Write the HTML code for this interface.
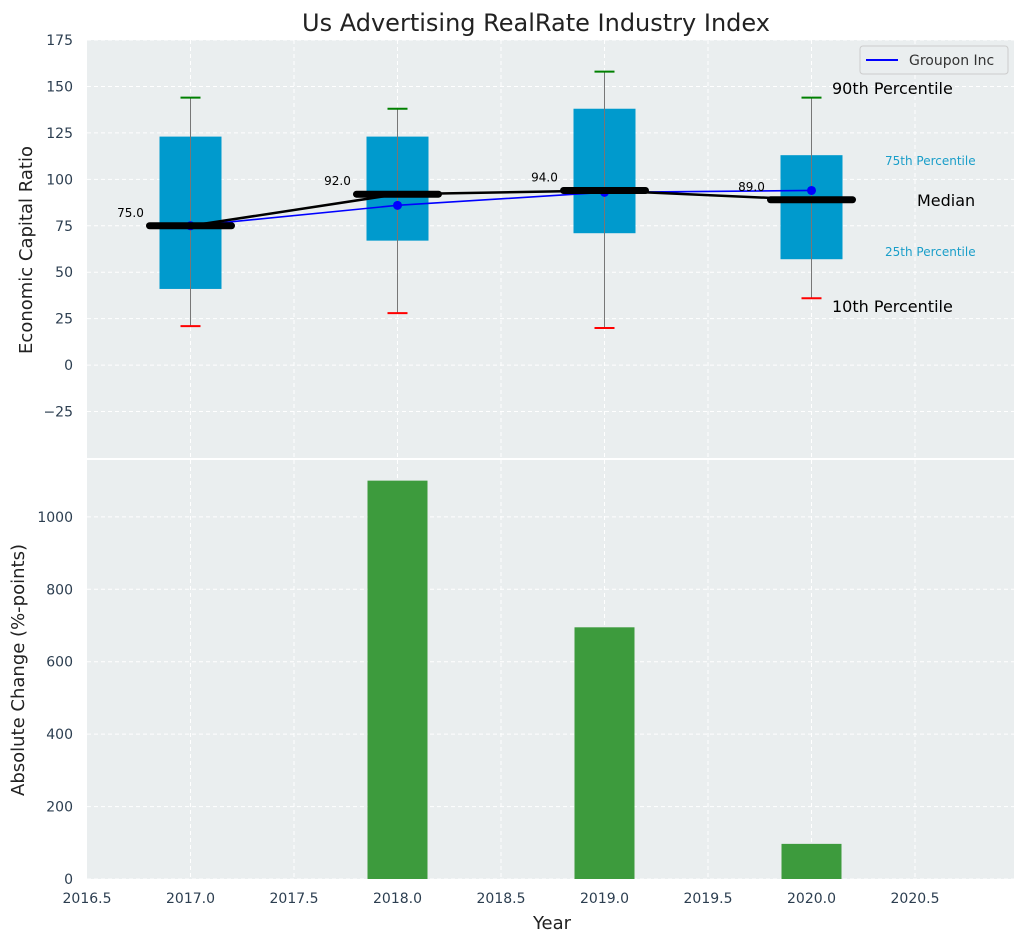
<!DOCTYPE html>
<html><head><meta charset="utf-8"><style>
body{margin:0;background:#fff;}
text{font-family:"DejaVu Sans","Liberation Sans",sans-serif;}
</style></head><body>
<svg id="chart" width="1026" height="942" xmlns="http://www.w3.org/2000/svg"></svg>
<script>
const years=[2017,2018,2019,2020];
const p10=[21,28,20,36];
const q1=[41,67,71,57];
const medians=[75,92,94,89];
const q3=[123,123,138,113];
const p90=[144,138,158,144];
const groupon=[75,86,93,94];
const barYears=[2018,2019,2020];
const barValues=[1100,695,97];
const xTicks=[2016.5,2017,2017.5,2018,2018.5,2019,2019.5,2020,2020.5];
const yTicksTop=[-25,0,25,50,75,100,125,150,175];
const yTicksBot=[0,200,400,600,800,1000];

const svg=document.getElementById('chart');
const NS='http://www.w3.org/2000/svg';
function el(t,a,p){const e=document.createElementNS(NS,t);for(const k in a)e.setAttribute(k,a[k]);(p||svg).appendChild(e);return e;}
const L=87,R=1014;
const x=v=>L+(v-2016.5)*207;
const T0=40,T1=458,yT=v=>T0+(175-v)*(T1-T0)/225;
const B0=460,B1=879,yB=v=>B1-v*(B1-B0)/1157;

// backgrounds
let e=el('rect',{x:L,y:T0,width:R-L,height:T1-T0,fill:'#eaeeef'});

e=el('rect',{x:L,y:B0,width:R-L,height:B1-B0,fill:'#eaeeef'});


// grids
xTicks.forEach(t=>{
  if(t===2016.5)return;
  e=el('line',{x1:x(t),x2:x(t),y1:T0,y2:T1,stroke:'#fff','stroke-dasharray':'4,3','stroke-width':1});
  
  e=el('line',{x1:x(t),x2:x(t),y1:B0,y2:B1,stroke:'#fff','stroke-dasharray':'4,3','stroke-width':1});
  
});
yTicksTop.forEach(t=>{
  e=el('line',{x1:L,x2:R,y1:yT(t),y2:yT(t),stroke:'#fff','stroke-dasharray':'4,3'});
  
  e=el('text',{x:L-14,y:yT(t)+5,'text-anchor':'end','font-size':14,fill:'#2c3e50'});
  e.textContent=t===0?'0':(t<0?'\u2212'+(-t):t);
  
});
yTicksBot.forEach(t=>{
  e=el('line',{x1:L,x2:R,y1:yB(t),y2:yB(t),stroke:'#fff','stroke-dasharray':'4,3'});
  
  e=el('text',{x:L-14,y:yB(t)+5,'text-anchor':'end','font-size':14,fill:'#2c3e50'});
  e.textContent=t;
  
});
xTicks.forEach(t=>{
  e=el('text',{x:x(t),y:B1+24,'text-anchor':'middle','font-size':14,fill:'#2c3e50'});
  e.textContent=t.toFixed(1);
  
});

// boxes
years.forEach((yr,i)=>{
  const cx=x(yr);
  e=el('rect',{x:cx-31,y:yT(q3[i]),width:62,height:yT(q1[i])-yT(q3[i]),fill:'#009acd'});
  
  e=el('line',{x1:cx,x2:cx,y1:yT(p90[i]),y2:yT(p10[i]),stroke:'#777','stroke-width':1});
  
  e=el('line',{x1:cx-10,x2:cx+10,y1:yT(p90[i]),y2:yT(p90[i]),stroke:'green','stroke-width':2});
  
  e=el('line',{x1:cx-10,x2:cx+10,y1:yT(p10[i]),y2:yT(p10[i]),stroke:'red','stroke-width':2});
  
});
// groupon line
e=el('polyline',{points:years.map((yr,i)=>x(yr)+','+yT(groupon[i])).join(' '),fill:'none',stroke:'blue','stroke-width':1.6});

years.forEach((yr,i)=>{
  e=el('circle',{cx:x(yr),cy:yT(groupon[i]),r:4.5,fill:'blue'});
  
});
// median line
e=el('polyline',{points:years.map((yr,i)=>x(yr)+','+yT(medians[i])).join(' '),fill:'none',stroke:'#000','stroke-width':2.5});

years.forEach((yr,i)=>{
  const cx=x(yr);
  e=el('line',{x1:cx-41,x2:cx+41,y1:yT(medians[i]),y2:yT(medians[i]),stroke:'#000','stroke-width':7,'stroke-linecap':'round'});
  
  e=el('text',{x:cx-60,y:yT(medians[i])-9,'text-anchor':'middle','font-size':12,fill:'#000'});
  e.textContent=medians[i].toFixed(1);
  
});
// annotations
const ann=[['90th Percentile',832,94,16,'#000'],['75th Percentile',885,165,12,'#1a9ec9'],['Median',917,206,16,'#000'],['25th Percentile',885,256,12,'#1a9ec9'],['10th Percentile',832,312,16,'#000']];
ann.forEach(a=>{e=el('text',{x:a[1],y:a[2],'font-size':a[3],fill:a[4]});e.textContent=a[0];
  });
// legend
e=el('rect',{x:860,y:46,width:148,height:28,rx:3,fill:'#eaeeef',stroke:'#ccc'});

el('line',{x1:866,x2:898,y1:60,y2:60,stroke:'blue','stroke-width':2});
e=el('text',{x:909,y:65,'font-size':14,fill:'#333'});e.textContent='Groupon Inc';

// bars
barYears.forEach((yr,i)=>{
  e=el('rect',{x:x(yr)-30,y:yB(barValues[i]),width:60,height:B1-yB(barValues[i]),fill:'#3d9b3d'});
  
});
// titles
e=el('text',{x:536,y:31,'text-anchor':'middle','font-size':24,fill:'#222'});e.textContent='Us Advertising RealRate Industry Index';

e=el('text',{x:552,y:929,'text-anchor':'middle','font-size':18,fill:'#222'});e.textContent='Year';

e=el('text',{x:32,y:250,'text-anchor':'middle','font-size':18,fill:'#222',transform:'rotate(-90 32 250)'});e.textContent='Economic Capital Ratio';

e=el('text',{x:24,y:670,'text-anchor':'middle','font-size':18,fill:'#222',transform:'rotate(-90 24 670)'});e.textContent='Absolute Change (%-points)';

</script>
</body></html>
